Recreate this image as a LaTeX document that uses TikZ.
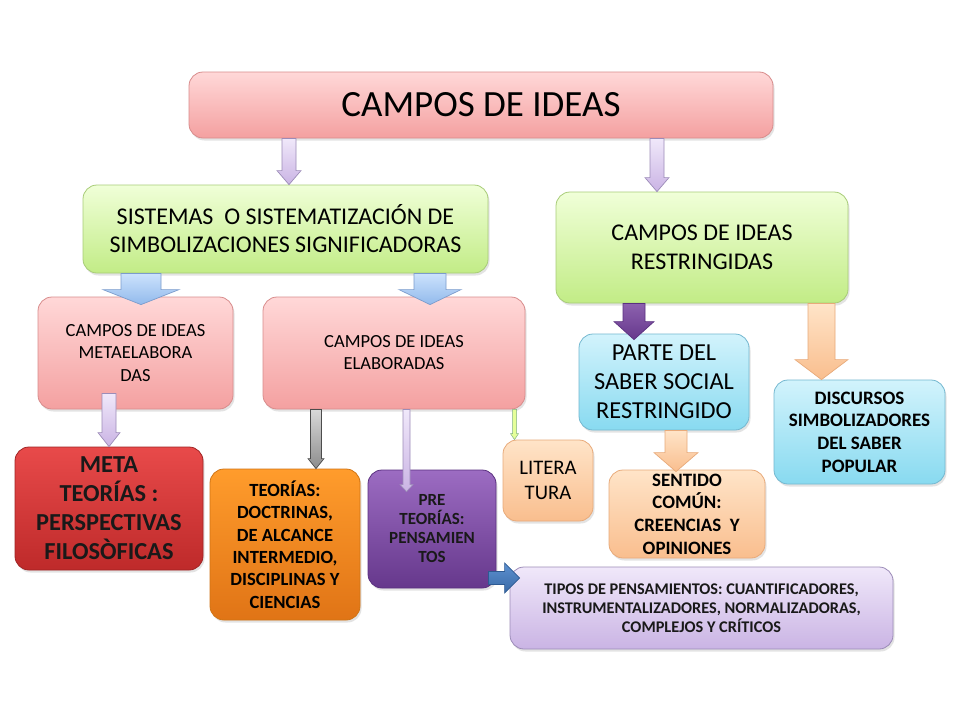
\documentclass[tikz,border=0pt]{standalone}
\usepackage{fontspec}
\setmainfont{Carlito}
\usetikzlibrary{calc,shadows}
\definecolor{pinkT}{HTML}{FFD8D8}
\definecolor{pinkD}{HTML}{F4A0A0}
\definecolor{pinkB}{HTML}{D88C8C}
\definecolor{greenT}{HTML}{F0FFD8}
\definecolor{greenD}{HTML}{C2EC86}
\definecolor{greenB}{HTML}{A8CC78}
\definecolor{blueT}{HTML}{D2F3FC}
\definecolor{blueD}{HTML}{88DAF0}
\definecolor{blueB}{HTML}{74B8D0}
\definecolor{redT}{HTML}{E84A4A}
\definecolor{redD}{HTML}{BE2A2A}
\definecolor{redB}{HTML}{A02424}
\definecolor{orT}{HTML}{FF9C2C}
\definecolor{orD}{HTML}{E07416}
\definecolor{orB}{HTML}{D07414}
\definecolor{purT}{HTML}{9C6CC2}
\definecolor{purD}{HTML}{66388C}
\definecolor{purB}{HTML}{5A3080}
\definecolor{peT}{HTML}{FFE4C8}
\definecolor{peD}{HTML}{F9BE8E}
\definecolor{peB}{HTML}{E8AA7A}
\definecolor{lavT}{HTML}{F0E8FA}
\definecolor{lavD}{HTML}{CAB4E4}
\definecolor{lavB}{HTML}{9C8CB8}
\definecolor{abT}{HTML}{CCE2FC}
\definecolor{abD}{HTML}{92BAEC}
\definecolor{abB}{HTML}{7C9CCC}
\definecolor{sbT}{HTML}{5C90D0}
\definecolor{sbD}{HTML}{3A6AA6}
\definecolor{sbB}{HTML}{2E5A92}
\newcommand{\blkdown}[6]{\path[#6] let \p1=(#1), \p2=(#2) in
  (\x1-#3,\y1) -- (\x1-#3,\y2+#5) -- (\x1-#4,\y2+#5) -- (\x1,\y2) --
  (\x1+#4,\y2+#5) -- (\x1+#3,\y2+#5) -- (\x1+#3,\y1) -- cycle;}
\newcommand{\blkright}[6]{\path[#6] let \p1=(#1), \p2=(#2) in
  (\x1,\y1+#3) -- (\x2-#5,\y1+#3) -- (\x2-#5,\y1+#4) -- (\x2,\y1) --
  (\x2-#5,\y1-#4) -- (\x2-#5,\y1-#3) -- (\x1,\y1-#3) -- cycle;}
\tikzset{
  box/.style={rounded corners=14pt, align=center, inner sep=0pt, line width=0.8pt,
    drop shadow={opacity=0.22,shadow xshift=1.5pt,shadow yshift=-2.5pt}},
  pinkbox/.style={box, draw=pinkB, top color=pinkT, bottom color=pinkD},
  greenbox/.style={box, draw=greenB, top color=greenT, bottom color=greenD},
  bluebox/.style={box, draw=blueB, top color=blueT, bottom color=blueD},
  redbox/.style={box, draw=redB, top color=redT, bottom color=redD, text=black!90},
  orbox/.style={box, draw=orB, top color=orT, bottom color=orD},
  purbox/.style={box, draw=purB, top color=purT, bottom color=purD, text=black!90},
  pebox/.style={box, draw=peB, top color=peT, bottom color=peD},
  lavbox/.style={box, draw=lavB, top color=lavT, bottom color=lavD, text=black!90},
  arlav/.style={draw=lavB, line width=0.7pt, top color=lavT, bottom color=lavD},
  arblue/.style={draw=abB, line width=0.7pt, top color=abT, bottom color=abD},
  argrey/.style={draw=black!70, line width=0.7pt, top color=black!15, bottom color=black!45},
  argreen/.style={draw=green!40!black!50, line width=0.5pt, fill=green!25!yellow!40},
  arpur/.style={draw=purB, line width=0.7pt, top color=purT!90!black, bottom color=purD},
  arpe/.style={draw=peB, line width=0.7pt, top color=peT, bottom color=peD},
  arbr/.style={draw=sbB, line width=0.7pt, top color=sbT, bottom color=sbD}
}
\begin{document}
\begin{tikzpicture}[x=1pt,y=-1pt]
\useasboundingbox (0,0) rectangle (960,720);
\fill[white] (0,0) rectangle (960,720);

\node[pinkbox, minimum width=584pt, minimum height=66pt, font=\fontsize{37}{42}\selectfont] (top) at (481,105) {CAMPOS DE IDEAS};
\node[greenbox, minimum width=405pt, minimum height=88pt, font=\fontsize{24}{28}\selectfont] (sis) at (285.5,229) {SISTEMAS~ O SISTEMATIZACIÓN DE\\SIMBOLIZACIONES SIGNIFICADORAS};
\node[greenbox, minimum width=292pt, minimum height=111pt, font=\fontsize{24}{29}\selectfont] (res) at (702,247.5) {CAMPOS DE IDEAS\\RESTRINGIDAS};
\node[pinkbox, minimum width=195pt, minimum height=112pt, font=\fontsize{18.5}{22.5}\selectfont] (metael) at (135.5,353) {CAMPOS DE IDEAS\\METAELABORA\\DAS};
\node[pinkbox, minimum width=262pt, minimum height=112pt, font=\fontsize{18.5}{22}\selectfont] (elab) at (394,353) {CAMPOS DE IDEAS\\ELABORADAS};
\node[bluebox, minimum width=170pt, minimum height=96pt, font=\fontsize{24.4}{29}\selectfont] (parte) at (664,382) {PARTE DEL\\SABER SOCIAL\\RESTRINGIDO};
\node[bluebox, minimum width=171pt, minimum height=104pt, font=\bfseries\fontsize{19}{22.6}\selectfont] (disc) at (859.5,432) {DISCURSOS\\SIMBOLIZADORES\\DEL SABER\\POPULAR};
\node[redbox, minimum width=188pt, minimum height=123pt, font=\bfseries\fontsize{24.4}{29}\selectfont] (metat) at (109,508.5) {META\\TEORÍAS :\\PERSPECTIVAS\\FILOSÒFICAS};
\node[orbox, minimum width=150pt, minimum height=151pt, font=\bfseries\fontsize{18.6}{22.3}\selectfont] (teo) at (285,544.5) {TEORÍAS:\\DOCTRINAS,\\DE ALCANCE\\INTERMEDIO,\\DISCIPLINAS Y\\CIENCIAS};
\node[purbox, minimum width=128pt, minimum height=118pt, font=\bfseries\fontsize{17}{19}\selectfont] (pre) at (432,529) {PRE\\TEORÍAS:\\PENSAMIEN\\TOS};
\node[pebox, minimum width=90pt, minimum height=81pt, font=\fontsize{20.7}{25}\selectfont] (lit) at (548,480.5) {LITERA\\TURA};
\node[pebox, minimum width=156pt, minimum height=88pt, font=\bfseries\fontsize{18.9}{22.6}\selectfont] (sent) at (687,514) {SENTIDO\\COMÚN:\\CREENCIAS~ Y\\OPINIONES};
\node[lavbox, minimum width=383pt, minimum height=82pt, font=\bfseries\fontsize{16.3}{19}\selectfont] (tipos) at (701.5,608) {TIPOS DE PENSAMIENTOS: CUANTIFICADORES,\\INSTRUMENTALIZADORES, NORMALIZADORAS,\\COMPLEJOS Y CRÍTICOS};

\coordinate (x289) at (289,0);
\coordinate (x657) at (657,0);
\coordinate (x141) at (141,0);
\coordinate (x430) at (430,0);
\coordinate (x109) at (109,0);
\coordinate (x316) at (316,0);
\coordinate (x406) at (406.5,0);
\coordinate (x514) at (514.5,0);
\coordinate (x634) at (634,0);
\coordinate (x821) at (821.5,0);
\coordinate (x676) at (676,0);
\coordinate (y578) at (0,578);

\blkdown{x289 |- top.south}{x289 |- sis.north}{7pt}{12pt}{14pt}{arlav}
\blkdown{x657 |- top.south}{x657 |- res.north}{7pt}{12pt}{14pt}{arlav}
\blkdown{x141 |- sis.south}{$(x141 |- metael.north)+(0,8)$}{20pt}{38pt}{15pt}{arblue}
\blkdown{x430 |- sis.south}{$(x430 |- elab.north)+(0,8)$}{16pt}{31pt}{15pt}{arblue}
\blkdown{$(x109 |- metael.south)+(0,-16)$}{x109 |- metat.north}{7pt}{11pt}{14pt}{arlav}
\blkdown{x316 |- elab.south}{x316 |- teo.north}{5.5pt}{8pt}{10pt}{argrey}
\blkdown{x406 |- elab.south}{$(x406 |- pre.north)+(0,22)$}{3.5pt}{6.5pt}{7pt}{arlav}
\blkdown{x514 |- elab.south}{x514 |- lit.north}{2pt}{4pt}{6pt}{argreen}
\blkdown{x634 |- res.south}{$(x634 |- parte.north)+(0,6)$}{11pt}{20pt}{18pt}{arpur}
\blkdown{x821 |- res.south}{x821 |- disc.north}{13.5pt}{26.5pt}{20pt}{arpe}
\blkdown{x676 |- parte.south}{$(x676 |- sent.north)+(0,2)$}{11pt}{22pt}{19pt}{arpe}
\blkright{$(pre.east |- y578)+(-8,0)$}{$(tipos.west |- y578)+(10,0)$}{6.5pt}{15pt}{15pt}{arbr}
\end{tikzpicture}
\end{document}
